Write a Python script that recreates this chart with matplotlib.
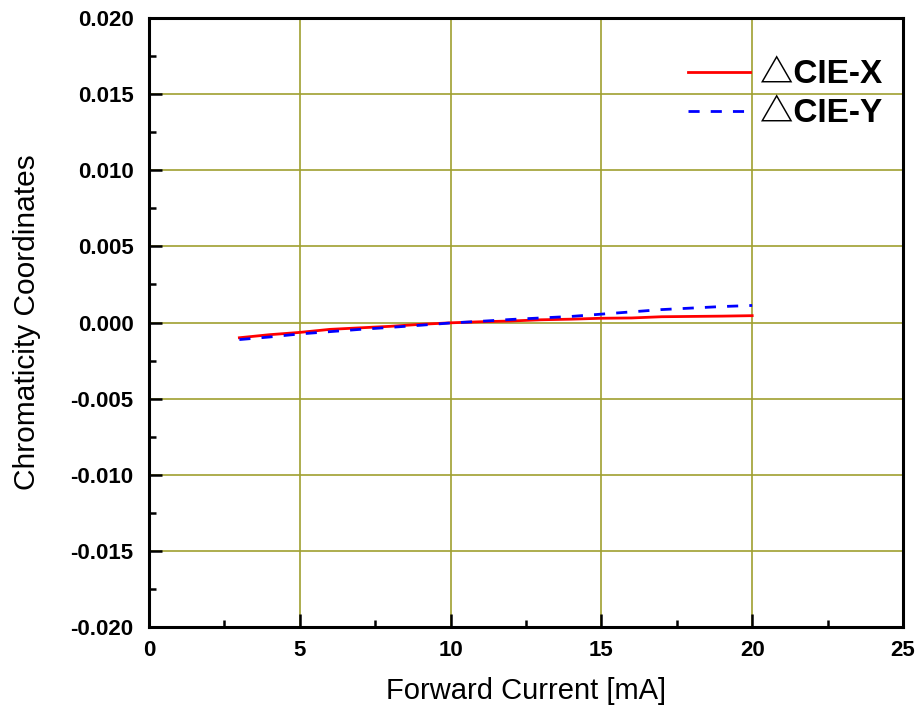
import matplotlib
matplotlib.use("Agg")
import matplotlib.pyplot as plt
from matplotlib.ticker import MultipleLocator

plt.rcParams['font.family'] = ['Liberation Sans', 'DejaVu Sans']

current = [3, 4, 5, 6, 7, 8, 9, 10, 11, 12, 13, 14, 15, 16, 17, 18, 19, 20]
d_cie_x = [-0.00100, -0.00080, -0.00065, -0.00045, -0.00035, -0.00025, -0.00012, -0.00002,
           0.00005, 0.00010, 0.00018, 0.00022, 0.00028, 0.00030, 0.00038, 0.00040, 0.00042, 0.00045]
d_cie_y = [-0.00112, -0.00095, -0.00075, -0.00060, -0.00045, -0.00032, -0.00018, -0.00003,
           0.00008, 0.00020, 0.00030, 0.00040, 0.00055, 0.00070, 0.00085, 0.00095, 0.00105, 0.00112]
y_ticks = [-0.020, -0.015, -0.010, -0.005, 0.000, 0.005, 0.010, 0.015, 0.020]
x_ticks = [0, 5, 10, 15, 20, 25]

fig = plt.figure(figsize=(9.19, 7.10), dpi=100)
ax = fig.add_axes([0.162, 0.1169, 0.8206, 0.8577])

ax.plot(current, d_cie_x, color='red', lw=2, label='△CIE-X')
ax.plot(current, d_cie_y, color='blue', lw=2, ls=(0, (4, 4)), label='△CIE-Y')

ax.set_xlim(0, 25)
ax.set_ylim(-0.020, 0.020)
ax.set_xticks(x_ticks)
ax.set_yticks(y_ticks)
ax.set_xticklabels([str(v) for v in x_ticks])
ax.set_yticklabels([f"{v:.3f}" for v in y_ticks])
ax.xaxis.set_minor_locator(MultipleLocator(2.5))
ax.yaxis.set_minor_locator(MultipleLocator(0.0025))
ax.tick_params(which='both', direction='in', top=False, right=False, width=1.8)
ax.tick_params(which='major', length=9.5, labelsize=16)
ax.tick_params(which='minor', length=5)
for lab in ax.get_xticklabels() + ax.get_yticklabels():
    lab.set_fontweight('bold')
ax.tick_params(axis='x', pad=9)
ax.tick_params(axis='y', pad=11)

ax.grid(True, which='major', color='#a0a030', lw=1.2)
for s in ax.spines.values():
    s.set_linewidth(2.2)

ax.set_xlabel('Forward Current [mA]', fontsize=21, labelpad=12)
ax.set_ylabel('Chromaticity Coordinates', fontsize=21.5, labelpad=21)

leg = ax.legend(loc='upper right', frameon=False, handlelength=1.86,
                prop={'weight': 'bold', 'size': 24,
                      'family': ['Liberation Sans', 'Noto Sans CJK SC', 'DejaVu Sans']},
                bbox_to_anchor=(0.972, 0.932), borderaxespad=0, borderpad=0,
                labelspacing=0.24, handletextpad=0.3)

fig.savefig('out.png', dpi=100)
